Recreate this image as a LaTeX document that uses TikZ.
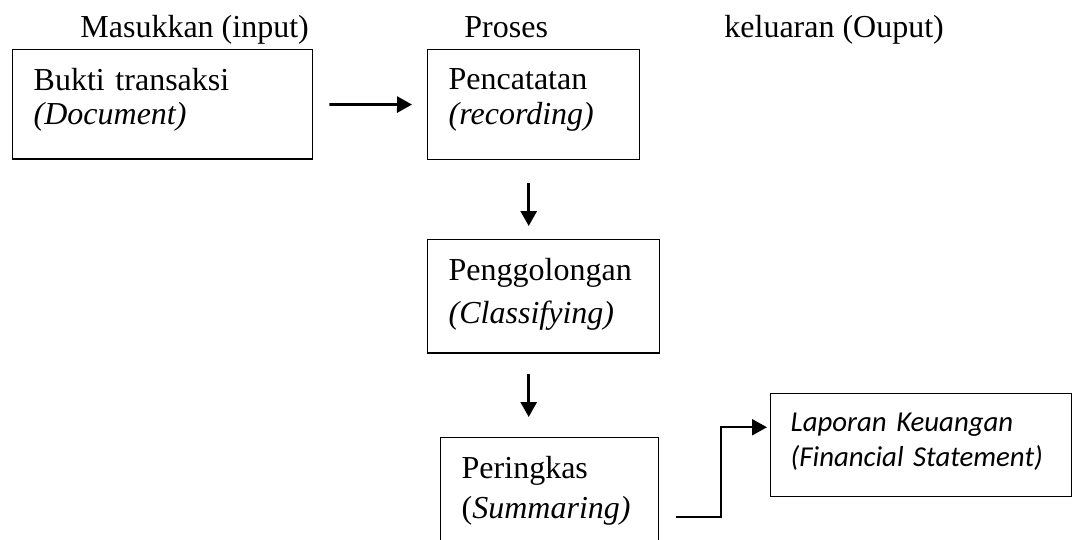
\documentclass[tikz,border=0pt]{standalone}
\usepackage{fontspec}
\setmainfont{Liberation Serif}
\newfontfamily\calibri{Carlito}
\usetikzlibrary{arrows.meta}

\begin{document}
\begin{tikzpicture}[x=0.5pt,y=-0.5pt,->,>={Triangle[length=7.5pt,width=8pt]},
            line width=1.4pt,font=\fontsize{16}{17}\selectfont]
        \tikzstyle{box}=[draw,line width=0.7pt,anchor=north west,align=left,
            inner xsep=10.5pt,inner ysep=9.5pt]
        \tikzstyle{head}=[anchor=base west,inner sep=0pt]

        \useasboundingbox (0,0) rectangle (1075,540);
        \clip (0,0) rectangle (1075,540);

        % column titles
        \node[head] (input) at (79,38) {Masukkan (input)};
        \node[head] (proses) at (463,38) {Proses};
        \node[head] (output) at (723,38) {keluaran (Ouput)};

        % boxes
        \node[box,text width=129pt,text depth=24.6pt] (doc) at (12,49)
            {Bukti transaksi\\\textit{(Document)}};
        \node[box,text width=85pt,text depth=25.4pt] (rec) at (427,49)
            {Pencatatan\\[0.5pt]\textit{(recording)}};
        \node[box,text width=95pt,text depth=26.6pt] (cls) at (427,239)
            {Penggolongan\\[4.5pt]\textit{(Classifying)}};
        \node[box,text width=88pt,text depth=28pt] (sum) at (440,437)
            {Peringkas\\[3pt](\textit{Summaring)}};
        \node[box,text width=130.5pt,inner xsep=10pt,text depth=23.3pt,
            font=\calibri\itshape\fontsize{14.4}{17.5}\selectfont] (fin) at (770,393)
            {Laporan Keuangan\\(Financial Statement)};

        % arrows
        \draw ([xshift=8pt]doc.east) -- ([xshift=-7.5pt]rec.west);
        \draw ([xshift=-2.5pt,yshift=-11.5pt]rec.south) -- ([xshift=-7.5pt,yshift=6.5pt]cls.north);
        \draw ([xshift=-7.5pt,yshift=-10pt]cls.south) -- ([xshift=-10.5pt,yshift=10pt]sum.north);
        \draw[line width=1pt] ([shift={(8.5pt,-40pt)}]sum.north east) -- ++(22.5pt,0)
            |- ([xshift=-1.5pt,yshift=9pt]fin.west);
\end{tikzpicture}
\end{document}
